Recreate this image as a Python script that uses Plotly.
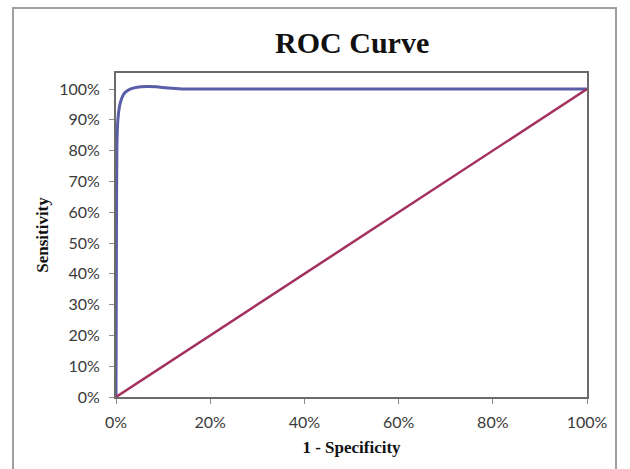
import plotly.graph_objects as go

# ROC curve points (false positive rate, true positive rate)
fpr = [0.0, 0.001, 0.002, 0.004, 0.007, 0.010, 0.015, 0.020, 0.030, 0.045, 0.065, 0.085, 0.110, 0.140, 0.200, 0.400, 0.600, 0.800, 1.0]
tpr = [0.0, 0.55, 0.82, 0.90, 0.94, 0.96, 0.98, 0.99, 1.000, 1.006, 1.008, 1.007, 1.003, 1.000, 1.000, 1.000, 1.000, 1.000, 1.0]

# Chance (reference) line
ref_x = [0.0, 1.0]
ref_y = [0.0, 1.0]

tick_vals = [0, 0.2, 0.4, 0.6, 0.8, 1.0]
tick_text = ["0%", "20%", "40%", "60%", "80%", "100%"]
ytick_vals = [i / 10 for i in range(11)]
ytick_text = [f"{i * 10}%" for i in range(11)]

fig = go.Figure()
fig.add_trace(go.Scatter(x=fpr, y=tpr, mode="lines",
                         line=dict(color="#5a5ea8", width=3, shape="spline", smoothing=0.6),
                         showlegend=False))
fig.add_trace(go.Scatter(x=ref_x, y=ref_y, mode="lines",
                         line=dict(color="#a3305f", width=2.5),
                         showlegend=False))

axis_font = dict(family="Lato, Open Sans, sans-serif", size=16, color="#3a3a3a")
title_font = dict(family="Liberation Serif, DejaVu Serif, serif", size=17, color="#111111")

fig.update_layout(
    width=630, height=469,
    margin=dict(l=116, r=43, t=73, b=72),
    paper_bgcolor="white", plot_bgcolor="white",
    title=dict(text="<b>ROC Curve</b>", x=0.559, xanchor="center", y=0.91, yanchor="middle",
               font=dict(family="Liberation Serif, DejaVu Serif, serif", size=30, color="#111111")),
    xaxis=dict(range=[0, 1], tickvals=tick_vals, ticktext=tick_text, tickfont=axis_font,
               showgrid=False, zeroline=False, showline=True, linecolor="#6b6b6b", linewidth=2,
               mirror=True, ticks="outside", ticklen=5, tickcolor="#8a8a8a",
               ticklabelstandoff=5,
               title=dict(text="<b>1 - Specificity</b>", font=title_font, standoff=11)),
    yaxis=dict(range=[0, 1.052], tickvals=ytick_vals, ticktext=ytick_text, tickfont=axis_font,
               showgrid=False, zeroline=False, showline=True, linecolor="#6b6b6b", linewidth=2,
               mirror=True, ticks="outside", ticklen=5, tickcolor="#8a8a8a",
               ticklabelstandoff=6,
               title=dict(text="<b>Sensitivity</b>", font=title_font, standoff=6)),
    shapes=[dict(type="rect", xref="paper", yref="paper",
                 x0=-103 / 471, x1=(616 - 116) / 471, y0=-0.3, y1=(397 - 8) / 324,
                 line=dict(color="#a0a0a0", width=2), layer="below")],
)

fig.write_html("out.html")
